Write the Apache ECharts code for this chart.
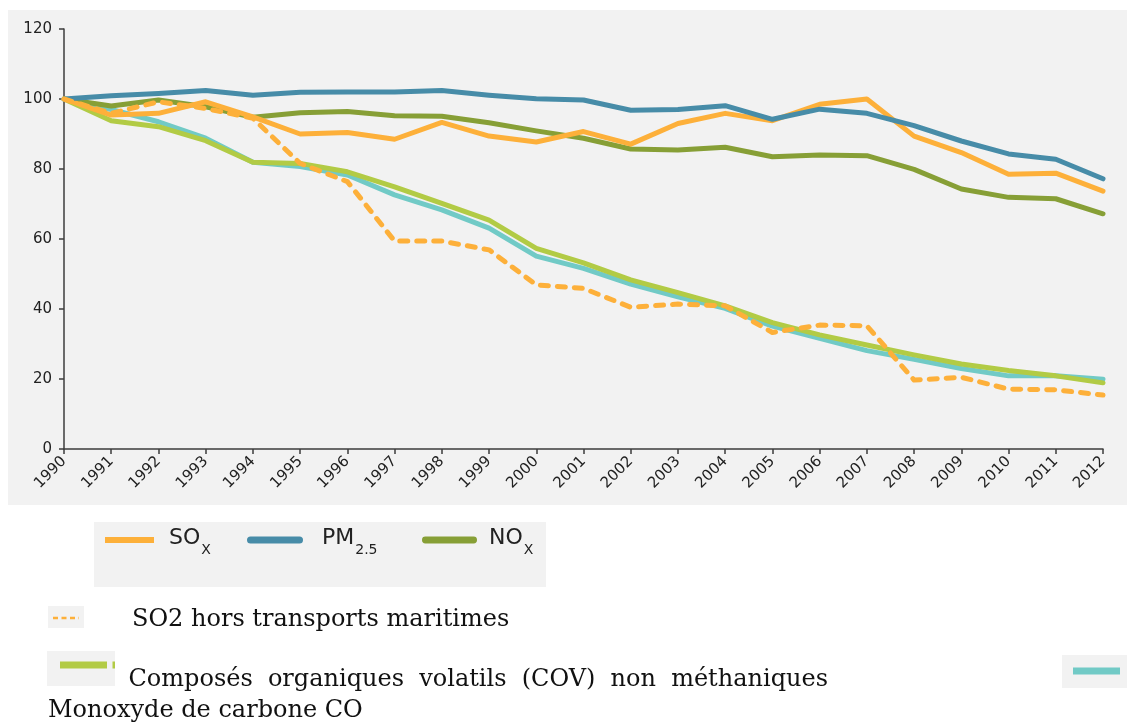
<!DOCTYPE html>
<html>
<head>
<meta charset="utf-8">
<script src="https://cdn.jsdelivr.net/npm/echarts@6/dist/echarts.min.js"></script>
<style>
  html, body { margin: 0; padding: 0; background: #ffffff; }
  #chart { width: 1127px; height: 725px; }
</style>
</head>
<body>
<div id="chart"></div>
<script>
// Emission indices (base 100 in 1990)
const years = ['1990', '1991', '1992', '1993', '1994', '1995', '1996', '1997', '1998', '1999', '2000',
  '2001', '2002', '2003', '2004', '2005', '2006', '2007', '2008', '2009', '2010', '2011', '2012'];

const sox = [100, 95.4, 95.9, 99.2, 94.9, 90.0, 90.4, 88.5, 93.3, 89.4, 87.7,
  90.7, 87.1, 93.0, 95.9, 93.8, 98.5, 100.0, 89.4, 84.7, 78.5, 78.8, 73.7];
const pm25 = [100, 100.9, 101.6, 102.4, 101.1, 101.9, 102.0, 102.0, 102.4, 101.1, 100.1,
  99.7, 96.8, 97.0, 98.1, 94.2, 97.1, 95.9, 92.4, 88.0, 84.3, 82.8, 77.2];
const nox = [100, 98.0, 99.7, 97.8, 94.8, 96.1, 96.4, 95.2, 95.1, 93.2, 90.9,
  88.8, 85.7, 85.4, 86.2, 83.5, 84.0, 83.8, 79.9, 74.3, 71.9, 71.5, 67.2];
const so2HorsMaritime = [100, 95.9, 99.2, 97.3, 94.5, 81.6, 76.4, 59.4, 59.4, 56.9, 46.9,
  45.9, 40.5, 41.4, 40.9, 33.3, 35.4, 35.2, 19.7, 20.5, 17.1, 16.9, 15.4];
const covnm = [100, 93.8, 92.1, 88.1, 81.9, 81.6, 79.2, 74.9, 70.2, 65.4, 57.3,
  53.2, 48.3, 44.7, 40.9, 36.1, 32.6, 29.7, 26.9, 24.3, 22.4, 20.9, 18.9];
const co = [100, 97.0, 93.5, 88.8, 81.9, 80.7, 78.3, 72.6, 68.3, 63.1, 55.1,
  51.6, 47.1, 43.5, 40.2, 35.1, 31.6, 28.1, 25.6, 23.0, 20.9, 20.9, 19.9];

const seriesNames = {
  sox: 'SOx',
  pm25: 'PM2.5',
  nox: 'NOx',
  so2: 'SO2 hors transports maritimes',
  cov: 'Composés organiques volatils (COV) non méthaniques',
  co: 'Monoxyde de carbone CO'
};

const colors = {
  sox: '#fdb03a',
  pm25: '#478ca8',
  nox: '#879f36',
  cov: '#b2cb45',
  co: '#71cac6'
};

const panelGray = '#f2f2f2';
const axisColor = '#3c3c3c';
const labelColor = '#222222';
const sansFont = '"DejaVu Sans", Verdana, sans-serif';
const serifFont = '"DejaVu Serif", serif';

// Rich-text legend labels with subscripts
const legendLabels = {
  'SOx': '{b|SO}{s|X}',
  'PM2.5': '{b|PM}{s|2.5}',
  'NOx': '{b|NO}{s|X}'
};
const richText = {
  b: { fontSize: 22, lineHeight: 26, fontFamily: sansFont, color: labelColor, verticalAlign: 'top' },
  s: { fontSize: 14, lineHeight: 14, fontFamily: sansFont, color: labelColor, verticalAlign: 'top', padding: [16, 0, 0, 1] }
};
const pillIcon = 'path://M3.5,0H52.5A3.5,3.5,0,0,1,52.5,7H3.5A3.5,3.5,0,0,1,3.5,0Z';

function makeLegend(name, icon, left, width, height, gap) {
  return {
    data: [{ name: name, icon: icon }],
    left: left,
    top: 527,
    padding: 0,
    itemWidth: width,
    itemHeight: height,
    selectedMode: false,
    formatter: n => legendLabels[n],
    textStyle: { rich: richText, padding: [0, 0, 0, gap] }
  };
}

// Justify a line of words between two x positions (paragraph-style layout)
function justifiedWords(text, x0, x1, y, fontSize, fontFamily) {
  const ctx = document.createElement('canvas').getContext('2d');
  ctx.font = fontSize + 'px ' + fontFamily;
  const words = text.split(' ');
  const widths = words.map(w => ctx.measureText(w).width);
  const total = widths.reduce((a, b) => a + b, 0);
  const gap = (x1 - x0 - total) / (words.length - 1);
  let x = x0;
  return words.map((w, i) => {
    const el = {
      type: 'text', x: x, y: y,
      style: { text: w, font: fontSize + 'px ' + fontFamily, fill: '#111', verticalAlign: 'middle' }
    };
    x += widths[i] + gap;
    return el;
  });
}

const lineSeries = (name, data, color, extra) => Object.assign({
  name: name,
  type: 'line',
  data: data,
  symbol: 'none',
  showSymbol: false,
  smooth: false,
  lineStyle: { color: color, width: 5, cap: 'round', join: 'round' },
  itemStyle: { color: color },
  emphasis: { disabled: true }
}, extra || {});

const chart = echarts.init(document.getElementById('chart'), null, { renderer: 'canvas' });

const graphics = [
  // chart panel and legend box
  { type: 'rect', z: -1, shape: { x: 8, y: 10, width: 1119, height: 495 }, style: { fill: panelGray } },
  { type: 'rect', z: -1, shape: { x: 94, y: 522, width: 452, height: 65 }, style: { fill: panelGray } },

  // SO2 hors transports maritimes
  { type: 'rect', shape: { x: 48, y: 606, width: 36, height: 22 }, style: { fill: panelGray } },
  { type: 'line', shape: { x1: 53, y1: 618, x2: 79, y2: 618 },
    style: { stroke: colors.sox, lineWidth: 2.5, lineDash: [5, 3.5] } },
  { type: 'text', x: 132, y: 620, style: { text: seriesNames.so2, font: '24px ' + serifFont, fill: '#111', verticalAlign: 'middle' } },

  // COV non méthaniques
  { type: 'rect', shape: { x: 47, y: 651, width: 68, height: 35 }, style: { fill: panelGray } },
  { type: 'line', shape: { x1: 60, y1: 665, x2: 107, y2: 665 }, style: { stroke: colors.cov, lineWidth: 7 } },
  { type: 'line', shape: { x1: 112.5, y1: 665, x2: 115, y2: 665 }, style: { stroke: colors.cov, lineWidth: 7 } },

  // Monoxyde de carbone
  { type: 'rect', shape: { x: 1062, y: 655, width: 65, height: 33 }, style: { fill: panelGray } },
  { type: 'line', shape: { x1: 1073, y1: 671, x2: 1120, y2: 671 }, style: { stroke: colors.co, lineWidth: 7 } },
  { type: 'text', x: 48, y: 711, style: { text: seriesNames.co, font: '24px ' + serifFont, fill: '#111', verticalAlign: 'middle' } }
].concat(justifiedWords(seriesNames.cov, 128.5, 828, 680, 24, serifFont));

chart.setOption({
  animation: false,
  backgroundColor: '#ffffff',
  grid: { left: 64, right: 24, top: 29, bottom: 276, containLabel: false, outerBoundsMode: 'none' },
  legend: [
    makeLegend(seriesNames.sox, 'rect', 105, 49, 6, 10),
    makeLegend(seriesNames.pm25, pillIcon, 247, 56, 7, 14),
    makeLegend(seriesNames.nox, pillIcon, 422, 55, 7, 7)
  ],
  xAxis: {
    type: 'category',
    data: years,
    boundaryGap: false,
    axisLine: { lineStyle: { color: axisColor, width: 1.5 } },
    axisTick: { show: true, length: 5, interval: 0, lineStyle: { color: axisColor, width: 1.5 } },
    axisLabel: { interval: 0, rotate: 45, margin: 10, fontSize: 15, fontFamily: sansFont, color: labelColor },
    splitLine: { show: false }
  },
  yAxis: {
    type: 'value',
    min: 0,
    max: 120,
    interval: 20,
    axisLine: { show: true, lineStyle: { color: axisColor, width: 1.5 } },
    axisTick: { show: true, length: 5, lineStyle: { color: axisColor, width: 1.5 } },
    axisLabel: { margin: 12, fontSize: 15, fontFamily: sansFont, color: labelColor },
    splitLine: { show: false }
  },
  graphic: { elements: graphics },
  series: [
    lineSeries(seriesNames.co, co, colors.co),
    lineSeries(seriesNames.cov, covnm, colors.cov),
    lineSeries(seriesNames.nox, nox, colors.nox),
    lineSeries(seriesNames.sox, sox, colors.sox),
    lineSeries(seriesNames.pm25, pm25, colors.pm25),
    lineSeries(seriesNames.so2, so2HorsMaritime, colors.sox, {
      lineStyle: { color: colors.sox, width: 5, type: [8, 9], cap: 'round', join: 'round' }
    })
  ]
});
</script>
</body>
</html>
